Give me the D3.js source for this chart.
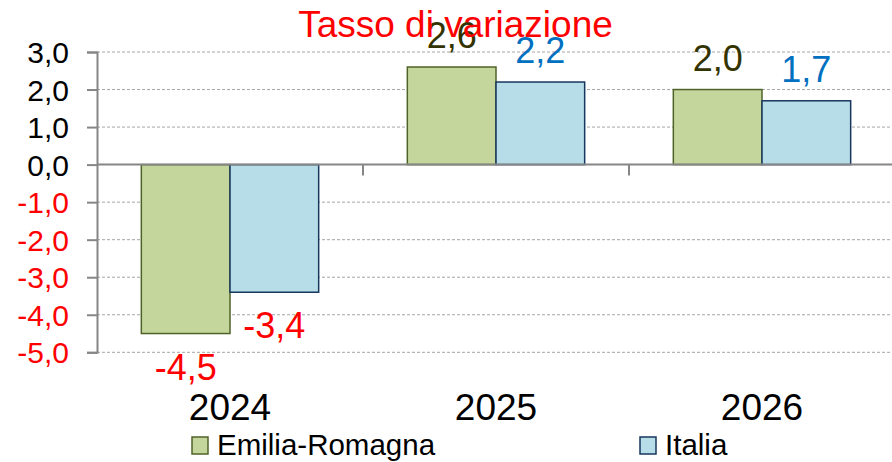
<html>
<head>
<meta charset="utf-8">
<title>Tasso di variazione</title>
<script src="https://d3js.org/d3.v7.min.js"></script>
<style>
    body { margin: 0; background: #fff; }
    svg { font-family: "Liberation Sans", Arial, sans-serif; }
</style>
</head>
<body>
<div id="chart"></div>
<script type="text/javascript">
    // data
    var years = ["2024", "2025", "2026"];
    var series = ["Emilia-Romagna", "Italia"];
    var emilia = [-4.5, 2.6, 2.0];
    var italia = [-3.4, 2.2, 1.7];
    var yTicks = [3, 2, 1, 0, -1, -2, -3, -4, -5];

    var fills = {"Emilia-Romagna": "#c4d69b", "Italia": "#b7dde8"};
    var strokes = {"Emilia-Romagna": "#4f6228", "Italia": "#17375e"};
    var labelColors = {"Emilia-Romagna": "#333300", "Italia": "#0070c0"};

    var width = 892, height = 462;
    var svg = d3.select("#chart").append("svg")
        .attr("width", width)
        .attr("height", height);

    // scales
    var x0 = d3.scaleBand().domain(years).range([97, 895]).paddingInner(0).paddingOuter(0);
    var x1 = d3.scaleBand().domain(series).range([0, x0.bandwidth()]).paddingInner(0).paddingOuter(0.5);
    var y = d3.scaleLinear().domain([-5, 3]).range([352.3, 52]);

    // italian style: comma decimal, plain hyphen for minus
    var fmt = function(d) { return d3.format(".1f")(d).replace(".", ",").replace("\u2212", "-"); };

    // gridlines (dashed)
    svg.append("g")
        .selectAll("line")
        .data(yTicks.filter(function(d) { return d !== 0; }))
        .enter().append("line")
        .attr("x1", 97).attr("x2", 895)
        .attr("y1", function(d) { return y(d); })
        .attr("y2", function(d) { return y(d); })
        .attr("stroke", "#a6a6a6")
        .attr("stroke-width", 1)
        .attr("stroke-dasharray", "3,2");

    // bars
    var rows = years.map(function(yr, i) {
        return {year: yr, values: [
            {key: "Emilia-Romagna", value: emilia[i]},
            {key: "Italia", value: italia[i]}
        ]};
    });

    var groups = svg.append("g").selectAll("g")
        .data(rows)
        .enter().append("g")
        .attr("transform", function(d) { return "translate(" + x0(d.year) + ",0)"; });

    groups.selectAll("rect")
        .data(function(d) { return d.values; })
        .enter().append("rect")
        .attr("x", function(d) { return x1(d.key); })
        .attr("width", x1.bandwidth())
        .attr("y", function(d) { return y(Math.max(0, d.value)); })
        .attr("height", function(d) { return Math.abs(y(d.value) - y(0)); })
        .attr("fill", function(d) { return fills[d.key]; })
        .attr("stroke", function(d) { return strokes[d.key]; })
        .attr("stroke-width", 1.5);

    // value labels
    groups.selectAll("text")
        .data(function(d) { return d.values; })
        .enter().append("text")
        .attr("x", function(d) { return x1(d.key) + x1.bandwidth() / 2; })
        .attr("y", function(d) { return d.value >= 0 ? y(d.value) - 19 : y(d.value) + 46; })
        .attr("text-anchor", "middle")
        .style("font-size", "36px")
        .attr("fill", function(d) { return d.value < 0 ? "#ff0000" : labelColors[d.key]; })
        .text(function(d) { return fmt(d.value); });

    // Y axis
    var yAxis = svg.append("g")
        .attr("transform", "translate(97,0)")
        .call(d3.axisLeft(y).tickValues(yTicks).tickSize(10).tickPadding(18).tickFormat(fmt));
    yAxis.select(".domain").attr("stroke", "#868686").attr("stroke-width", 2);
    yAxis.selectAll(".tick line").attr("stroke", "#868686").attr("stroke-width", 2);
    yAxis.selectAll(".tick text")
        .style("font-size", "30px")
        .attr("dy", "0.35em")
        .attr("fill", function(d) { return d < 0 ? "#ff0000" : "#000"; });

    // X axis line at zero, ticks at category boundaries
    svg.append("line")
        .attr("x1", 97).attr("x2", 895)
        .attr("y1", y(0)).attr("y2", y(0))
        .attr("stroke", "#868686").attr("stroke-width", 2);
    svg.append("g").selectAll("line")
        .data(years.slice(1))
        .enter().append("line")
        .attr("x1", function(d) { return x0(d); })
        .attr("x2", function(d) { return x0(d); })
        .attr("y1", y(0)).attr("y2", y(0) + 11)
        .attr("stroke", "#868686").attr("stroke-width", 2);

    // category labels (low position)
    svg.append("g").selectAll("text")
        .data(years)
        .enter().append("text")
        .attr("x", function(d) { return x0(d) + x0.bandwidth() / 2; })
        .attr("y", 419.5)
        .attr("text-anchor", "middle")
        .style("font-size", "37px")
        .attr("fill", "#000")
        .text(function(d) { return d; });

    // title
    svg.append("text")
        .attr("x", 455.5)
        .attr("y", 37)
        .attr("text-anchor", "middle")
        .style("font-size", "37px")
        .attr("fill", "#ff0000")
        .text("Tasso di variazione");

    // legend
    var legendX = [192, 640];
    var legend = svg.append("g").selectAll("g")
        .data(series)
        .enter().append("g")
        .attr("transform", function(d, i) { return "translate(" + legendX[i] + ",437)"; });
    legend.append("rect")
        .attr("width", 16).attr("height", 17)
        .attr("fill", function(d) { return fills[d]; })
        .attr("stroke", function(d) { return strokes[d]; })
        .attr("stroke-width", 1.5);
    legend.append("text")
        .attr("x", 25)
        .attr("y", 17.5)
        .style("font-size", "29.5px")
        .attr("fill", "#000")
        .text(function(d) { return d; });
</script>
</body>
</html>
